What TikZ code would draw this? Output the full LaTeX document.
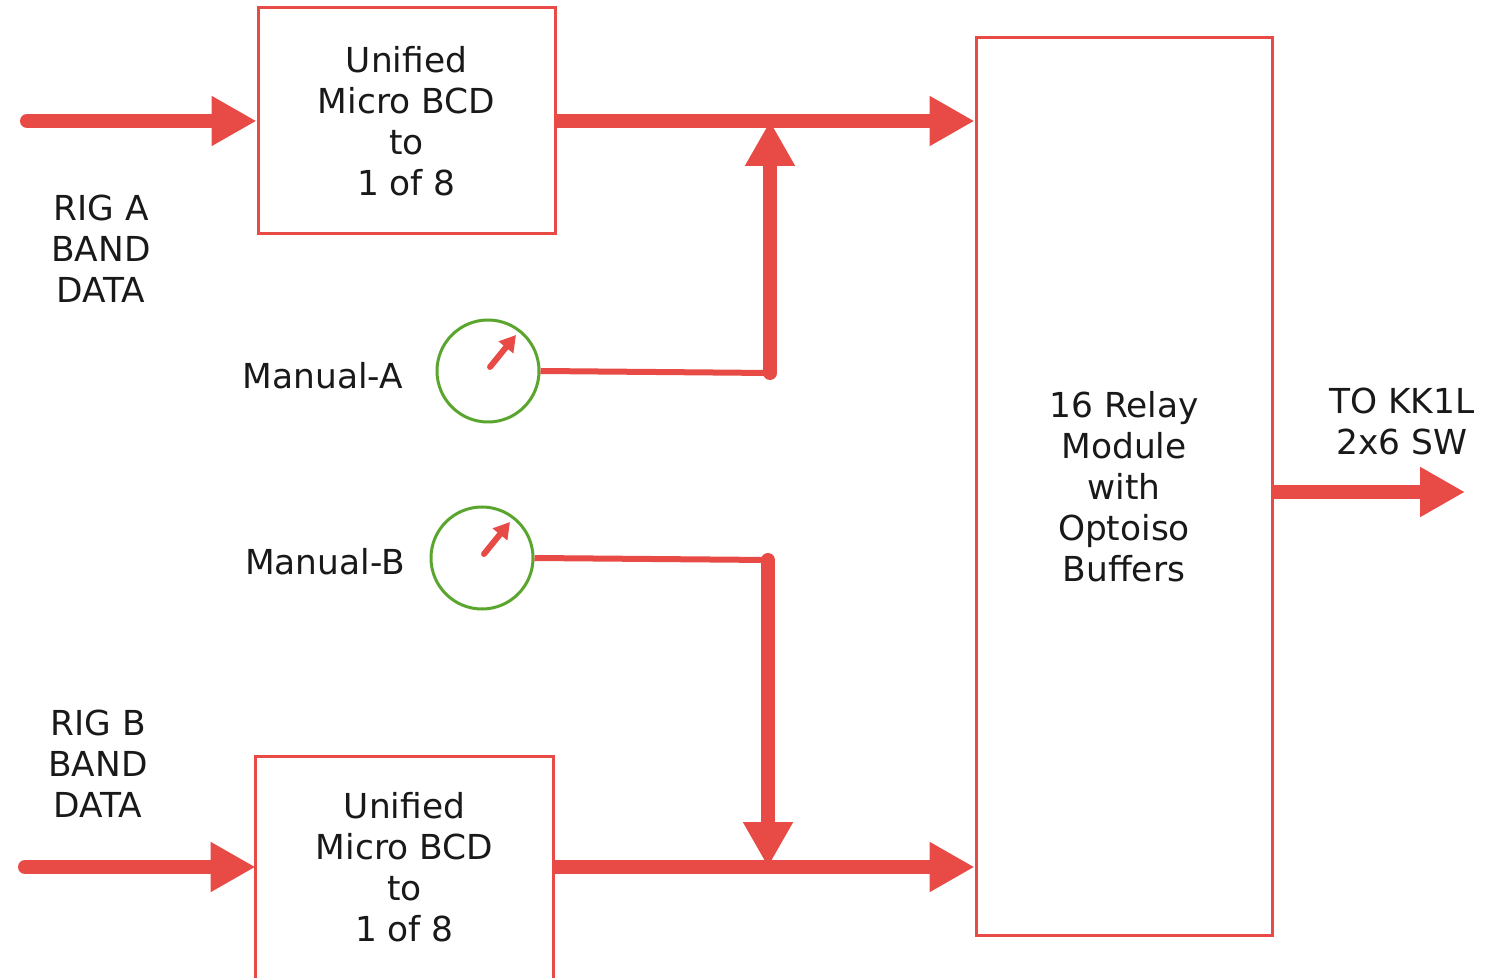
\documentclass[tikz,border=0pt]{standalone}
\usepackage{fontspec}
\setmainfont{DejaVu Sans}
\usetikzlibrary{arrows.meta}
\definecolor{wirered}{HTML}{E84B45}
\definecolor{dialgreen}{HTML}{5AA52E}

\begin{document}
\begin{tikzpicture}[x=0.5pt,y=-0.5pt]
      \tikzstyle{every node}=[font=\fontsize{17.2}{20.5}\selectfont, text=black!90, align=center]
      \tikzstyle{block}=[draw=wirered, line width=1.5pt, rectangle, inner sep=0pt]
      \tikzstyle{dial}=[draw=dialgreen, line width=1.5pt, circle, minimum size=51pt, inner sep=0pt]
      \tikzstyle{bus}=[draw=wirered, line width=7pt, line cap=round, -{Triangle[length=22.5pt,width=23.5pt]}]
      \tikzstyle{wire}=[draw=wirered, line width=3pt]
      \tikzstyle{needle}=[draw=wirered, line width=3pt, line cap=round, -{Triangle[length=8pt,width=9pt]}]
      \useasboundingbox (0,0) rectangle (1485,978);
      \clip (0,0) rectangle (1485,978);
      %% Rig A decoder
      \node (bcdA) at (406.5,121) [block, minimum width=148.5pt, minimum height=113pt] {Unified\\Micro BCD\\to\\1 of 8};
      \node (rigA) at (101,249) {RIG A\\BAND\\DATA};
      \coordinate (rigAin) at (27,121);
      %% Rig B decoder (open at the bottom)
      \node (bcdB) at (404.5,867) [minimum width=148.5pt, minimum height=110pt, inner sep=0pt] {Unified\\Micro BCD\\to\\1 of 8};
      \draw[wirered, line width=1.5pt] ([yshift=-20pt]bcdB.south west) |- (bcdB.north east) -- ([yshift=-20pt]bcdB.south east);
      \node (rigB) at (98,764) {RIG B\\BAND\\DATA};
      \coordinate (rigBin) at (25,867);
      %% Relay module
      \node (relay) at (1124,486.5) [block, minimum width=148pt, minimum height=448.5pt] {16 Relay\\Module\\with\\Optoiso\\Buffers};
      \node (kk1l) at (1402,421) {TO KK1L\\2x6 SW};
      \coordinate (out) at (1465,492);
      %% Manual selectors
      \node (dialA) at (488,371) [dial] {};
      \node (manA) at (323,376) {Manual-A};
      \node (dialB) at (482,558) [dial] {};
      \node (manB) at (325,562) {Manual-B};
      \coordinate (jA) at (770,373);
      \coordinate (jB) at (768,560);
      %% Dial needles
      \draw[needle] ([shift={(2,-4)}]dialA.center) -- ([shift={(28,-36)}]dialA.center);
      \draw[needle] ([shift={(2,-4)}]dialB.center) -- ([shift={(28,-36)}]dialB.center);
      %% Connectors
      \draw[wire] (dialA.east) -- (jA);
      \draw[wire] (dialB.east) -- (jB);
      \draw[bus] (rigAin) -- (bcdA.west);
      \draw[bus, line cap=butt] (bcdA.east) -- (bcdA.east -| relay.west);
      \draw[bus] (jA) -- (jA |- bcdA.east);
      \draw[bus] (rigBin) -- (bcdB.west);
      \draw[bus, line cap=butt] (bcdB.east) -- (bcdB.east -| relay.west);
      \draw[bus] (jB) -- (jB |- bcdB.east);
      \draw[bus, line cap=butt] (relay.east |- out) -- (out);
\end{tikzpicture}
\end{document}
